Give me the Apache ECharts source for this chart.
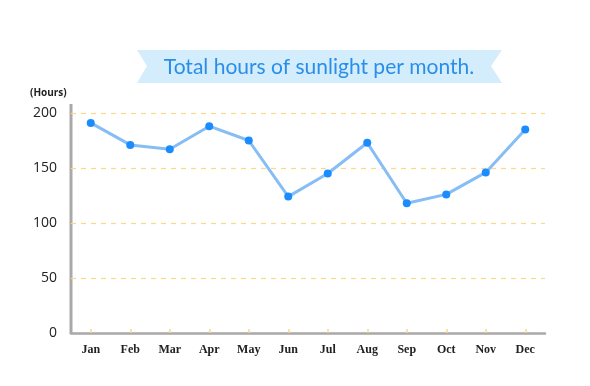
<!DOCTYPE html>
<html><head><meta charset="utf-8">
<script src="https://cdn.jsdelivr.net/npm/echarts@6/dist/echarts.min.js"></script>
<style>html,body{margin:0;padding:0;background:#fff}#c{width:590px;height:386px}</style>
</head><body><div id="c"></div>
<script>
var months = ['Jan','Feb','Mar','Apr','May','Jun','Jul','Aug','Sep','Oct','Nov','Dec'];
var sunlightHours = [191, 171, 167, 188, 175, 124, 145, 173, 118, 126, 146, 185];
var yTicks = [0, 50, 100, 150, 200];
var titleText = 'Total hours of sunlight per month.';
var yUnit = '(Hours)';

var chart = echarts.init(document.getElementById('c'), null, {renderer:'canvas'});
chart.setOption({
  animation: false,
  backgroundColor: '#fff',
  grid: {left: 71, right: 45, top: 113, bottom: 53},
  graphic: [
    {type:'polygon', z:0, shape:{points:[[137,50],[502,50],[491,66],[502,83],[137,83],[147,66]]}, style:{fill:'#d3edfc'}},
    {type:'text', z:1, x:319, y:67, style:{text:titleText, fill:'#2a8ee8', font:'400 21px Lato, "Open Sans", sans-serif', textAlign:'center', textVerticalAlign:'middle'}},
    {type:'text', left:30, top:88, style:{text:yUnit, fill:'#222', font:'bold 10px "Open Sans", sans-serif'}},
    {type:'line', shape:{x1:71, y1:104, x2:71, y2:334}, style:{stroke:'#a9a9a9', lineWidth:3}}
  ],
  xAxis: {
    type:'category', data: months, boundaryGap: true,
    axisLine:{show:true, lineStyle:{color:'#a9a9a9', width:2.5}},
    axisTick:{show:true, inside:true, alignWithLabel:true, length:4, lineStyle:{color:'#f8d98c', width:1.5}},
    axisLabel:{color:'#222', fontFamily:'"Liberation Serif", serif', fontSize:12, fontWeight:'bold', margin:11},
    splitLine:{show:false}
  },
  yAxis: {
    type:'value', min: yTicks[0], max: yTicks[yTicks.length-1], interval: yTicks[1]-yTicks[0],
    axisLine:{show:false},
    axisTick:{show:false},
    axisLabel:{color:'#222', fontFamily:'"Open Sans", sans-serif', fontSize:14, margin:14},
    splitLine:{show:true, lineStyle:{color:'#f9d98a', type:[5,5], width:1.2}}
  },
  series: [{
    type:'line', data: sunlightHours,
    symbol:'circle', symbolSize:8,
    lineStyle:{color:'#86bdf5', width:3},
    itemStyle:{color:'#1a8cff'}
  }]
});
</script></body></html>
